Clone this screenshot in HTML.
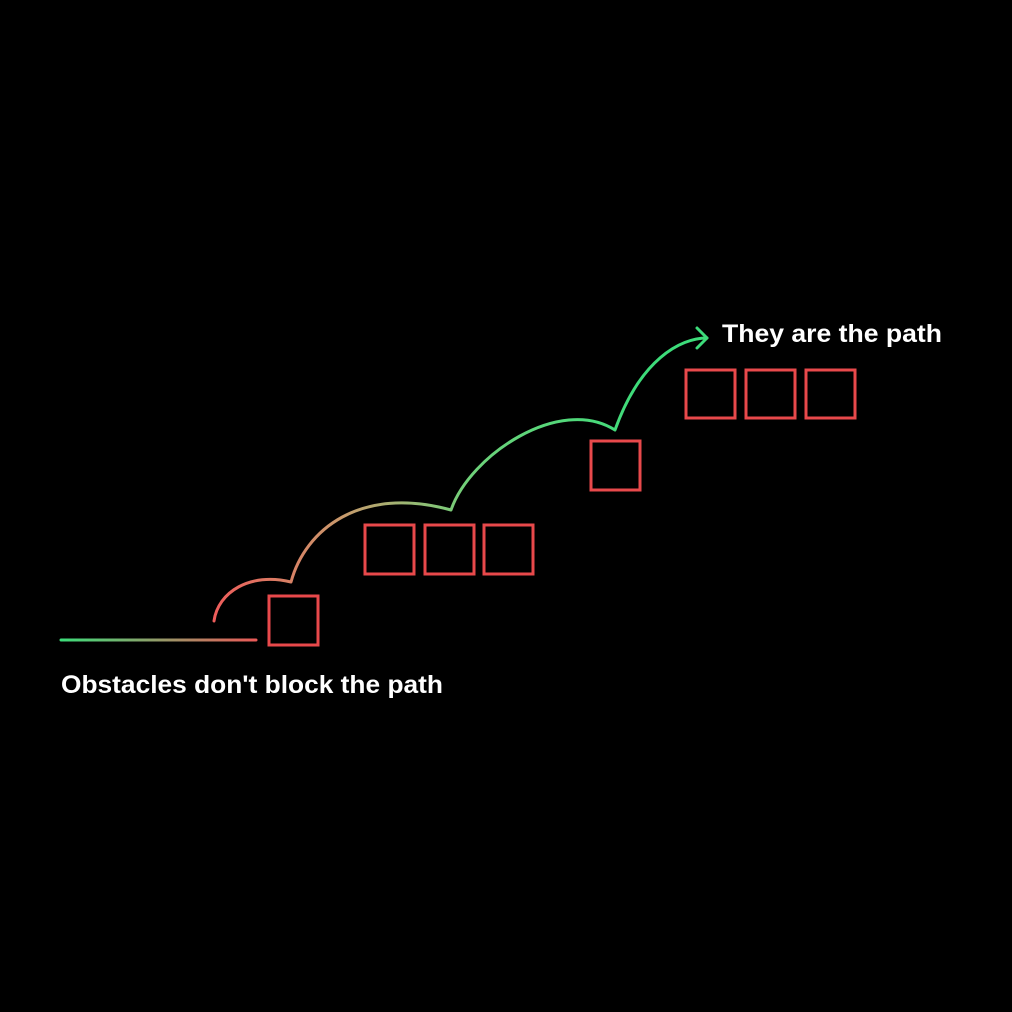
<!DOCTYPE html>
<html><head><meta charset="utf-8"><style>
body{margin:0;background:#000;width:1012px;height:1012px;overflow:hidden}
svg{display:block}
text{font-family:"Liberation Sans",sans-serif;font-weight:bold;fill:#fff}
</style></head><body>
<svg width="1012" height="1012" viewBox="0 0 1012 1012">
<defs>
<linearGradient id="lg" gradientUnits="userSpaceOnUse" x1="61" y1="0" x2="256" y2="0">
<stop offset="0" stop-color="#3ddc7a"/><stop offset="1" stop-color="#ea5a58"/></linearGradient>
<linearGradient id="pg" gradientUnits="userSpaceOnUse" x1="214" y1="0" x2="640" y2="0">
<stop offset="0" stop-color="#ee5d5b"/><stop offset="0.3" stop-color="#c99a6c"/><stop offset="0.6" stop-color="#6fd27a"/><stop offset="1" stop-color="#3ddc7a"/></linearGradient>
</defs>
<rect width="1012" height="1012" fill="#000"/>
<line x1="61" y1="640" x2="256" y2="640" stroke="url(#lg)" stroke-width="3" stroke-linecap="round"/>
<path d="M214,621 C218,592 250,572 291,582 C305,530 360,485 451,510 C470,455 560,395 615,430 C640,360 680,338 707,338" fill="none" stroke="url(#pg)" stroke-width="3" stroke-linecap="round" stroke-linejoin="round"/>
<path d="M697,328 L707,338 L697,348" fill="none" stroke="#3ddc7a" stroke-width="3" stroke-linecap="round" stroke-linejoin="round"/>
<g fill="none" stroke="#e8494b" stroke-width="3">
<rect x="269" y="596" width="49" height="49"/>
<rect x="365" y="525" width="49" height="49"/>
<rect x="425" y="525" width="49" height="49"/>
<rect x="484" y="525" width="49" height="49"/>
<rect x="591" y="441" width="49" height="49"/>
<rect x="686" y="370" width="49" height="48"/>
<rect x="746" y="370" width="49" height="48"/>
<rect x="806" y="370" width="49" height="48"/>
</g>
<text x="61" y="693" font-size="25" textLength="382" lengthAdjust="spacingAndGlyphs">Obstacles don't block the path</text>
<text x="722" y="342" font-size="25" textLength="220" lengthAdjust="spacingAndGlyphs">They are the path</text>
</svg>
</body></html>
